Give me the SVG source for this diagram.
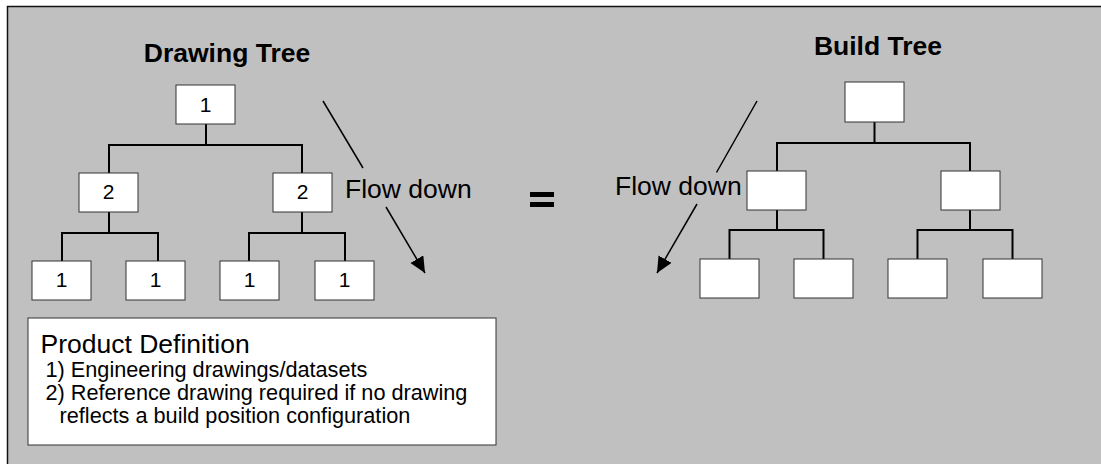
<svg xmlns="http://www.w3.org/2000/svg" width="1101" height="464" viewBox="0 0 1101 464">
  <defs>
    <style>
      .node rect { fill: #ffffff; stroke: #333333; stroke-width: 1; }
      .node text { font-family: "Liberation Sans", Arial, sans-serif; font-size: 21px; fill: #000; text-anchor: middle; }
      .link { fill: none; stroke: #000; stroke-width: 2; }
      .flow { fill: none; stroke: #000; stroke-width: 1.5; }
      .label { font-family: "Liberation Sans", Arial, sans-serif; fill: #000; }
      .title { font-size: 26.5px; font-weight: bold; text-anchor: middle; }
      .flowtext { font-size: 26.5px; }
      .note { font-size: 21.7px; }
    </style>
    <marker id="head" markerUnits="userSpaceOnUse" markerWidth="17" markerHeight="16" refX="16" refY="7.5" orient="auto">
      <path d="M0,0 L16,7.5 L0,15 Z" fill="#000"/>
    </marker>
  </defs>

  <!-- panel background -->
  <rect x="7" y="6" width="1094" height="458" fill="#c0c0c0"/>
  <path d="M7.5,464 V6.5 H1101" fill="none" stroke="#111" stroke-width="1.5"/>

  <!-- titles -->
  <text class="label title" x="227" y="62">Drawing Tree</text>
  <text class="label title" x="878" y="55">Build Tree</text>

  <!-- connectors -->
  <g id="connectors">
    <!-- drawing tree -->
    <path class="link" d="M206,124 V145 M109,173 V145 H302 V173"/>
    <path class="link" d="M109,212 V233 M62,261 V233 H158 V261"/>
    <path class="link" d="M302,212 V233 M249,261 V233 H345 V261"/>
    <!-- build tree -->
    <path class="link" d="M874.5,122 V143 M777,171 V143 H970 V171"/>
    <path class="link" d="M777,210 V230 M729.5,259 V230 H823.5 V259"/>
    <path class="link" d="M970,210 V230 M917.5,259 V230 H1012.5 V259"/>
    <!-- flow down arrows -->
    <path class="flow" d="M323,101 L363,168"/>
    <path class="flow" d="M386,207 L425,273" marker-end="url(#head)"/>
    <path class="flow" d="M757,101 L716.5,172.5"/>
    <path class="flow" d="M697,204 L657,273" marker-end="url(#head)"/>
  </g>

  <!-- drawing tree nodes -->
  <g id="d-root" class="node"><rect x="176" y="85" width="59" height="39"/><text x="205.5" y="111.5">1</text></g>
  <g id="d-l2a" class="node"><rect x="79" y="173" width="59" height="39"/><text x="108.5" y="199">2</text></g>
  <g id="d-l2b" class="node"><rect x="273" y="173" width="59" height="39"/><text x="302.5" y="199">2</text></g>
  <g id="d-l3a" class="node"><rect x="32" y="261" width="59" height="39"/><text x="61.5" y="287">1</text></g>
  <g id="d-l3b" class="node"><rect x="126" y="261" width="59" height="39"/><text x="155.5" y="287">1</text></g>
  <g id="d-l3c" class="node"><rect x="220" y="261" width="59" height="39"/><text x="249.5" y="287">1</text></g>
  <g id="d-l3d" class="node"><rect x="315" y="261" width="59" height="39"/><text x="344.5" y="287">1</text></g>

  <!-- build tree nodes -->
  <g id="b-root" class="node"><rect x="845" y="82" width="59" height="40"/></g>
  <g id="b-l2a" class="node"><rect x="747" y="171" width="59" height="39"/></g>
  <g id="b-l2b" class="node"><rect x="941" y="171" width="59" height="39"/></g>
  <g id="b-l3a" class="node"><rect x="700" y="259" width="59" height="39"/></g>
  <g id="b-l3b" class="node"><rect x="794" y="259" width="59" height="39"/></g>
  <g id="b-l3c" class="node"><rect x="888" y="259" width="59" height="39"/></g>
  <g id="b-l3d" class="node"><rect x="983" y="259" width="59" height="39"/></g>

  <!-- flow labels -->
  <text class="label flowtext" x="345" y="198">Flow down</text>
  <text class="label flowtext" x="615" y="195">Flow down</text>

  <!-- equals sign -->
  <g id="equals">
    <rect x="530" y="192" width="24" height="5" fill="#000"/>
    <rect x="530" y="202" width="24" height="5" fill="#000"/>
  </g>

  <!-- product definition note -->
  <g id="product-definition">
    <rect x="28" y="318" width="468" height="127" fill="#fff" stroke="#333" stroke-width="1"/>
    <text class="label" x="40.5" y="352.5" font-size="26.5">Product Definition</text>
    <text class="label note" x="45.5" y="377">1) Engineering drawings/datasets</text>
    <text class="label note" x="45.5" y="400">2) Reference drawing required if no drawing</text>
    <text class="label note" x="59.5" y="423">reflects a build position configuration</text>
  </g>
</svg>
